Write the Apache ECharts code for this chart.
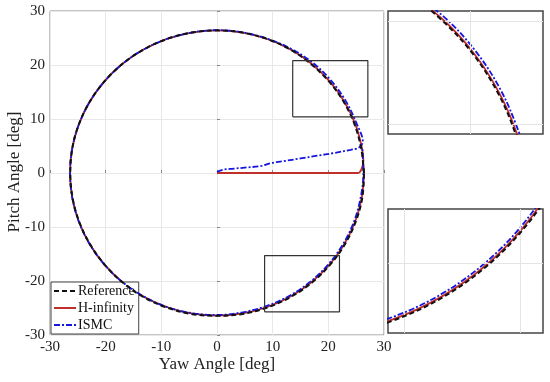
<!DOCTYPE html>
<html><head><meta charset="utf-8">
<script src="https://cdn.jsdelivr.net/npm/echarts@6/dist/echarts.min.js"></script>
<style>html,body{margin:0;padding:0;background:#fff}#c{width:550px;height:382px}</style>
</head><body><div id="c"></div>
<script>
// ---- data ----
const seriesNames = ['Reference', 'H-infinity', 'ISMC'];
const axisTitles = {x: 'Yaw Angle [deg]', y: 'Pitch Angle [deg]'};
const axisRange = [-30, 30];
const axisStep = 10;
const zoomBoxTop = [13.6, 27.1, 10.4, 20.8];     // xmin,xmax,ymin,ymax of box on main plot
const zoomBoxBottom = [8.55, 22.0, -25.7, -15.3];
const insetTopRange = [11.3, 27.6, 9.0, 21.0];
const insetBottomRange = [8.55, 22.0, -26.0, -15.3];
const insetTopGrid = {x: [20], y: [10, 20]};
const insetBottomGrid = {x: [10, 20], y: [-20]};

const referencePath = [
 [26.4,0],[25.90,4.57],[24.71,9.0],[22.78,13.15],[20.15,16.91],[16.91,20.15],[13.2,22.86],[9.03,24.81],[4.58,26.0],
 [0,26.4],[-4.58,26.0],[-9.03,24.81],[-13.2,22.86],[-16.97,20.22],[-20.22,16.97],[-22.86,13.2],[-24.81,9.03],[-26.0,4.58],
 [-26.35,0],[-25.95,-4.57],[-24.76,-9.01],[-22.82,-13.17],[-20.2,-16.95],[-16.97,-20.25],[-13.25,-22.95],[-9.06,-24.9],[-4.6,-26.1],
 [0,-26.45],[4.60,-26.10],[9.06,-24.90],[13.25,-22.95],[17.03,-20.30],[20.30,-17.03],[22.95,-13.25],[24.90,-9.06],[26.10,-4.60],[26.4,0]
];
const hinfPath = [
 [0,0],[5,0],[10,0],[15,0],[20,0],[25.3,0],[25.9,0.6],[26.3,2.2],[26.05,4.58],[24.85,9.04],[22.88,13.21],[20.24,16.98],[16.98,20.24],
 [13.2,22.86],[9.03,24.81],[4.58,26.0],[0,26.4],[-4.58,26.0],[-9.03,24.81],[-13.2,22.86],[-16.97,20.22],[-20.22,16.97],[-22.86,13.2],
 [-24.81,9.03],[-26.0,4.58],[-26.4,0],[-26.0,-4.58],[-24.81,-9.03],[-22.86,-13.2],[-20.22,-16.97],[-16.97,-20.22],[-13.2,-22.86],
 [-9.03,-24.81],[-4.58,-26.0],[0,-26.4],[4.58,-26.0],[9.03,-24.81],[13.2,-22.86],[16.97,-20.22],[20.22,-16.97],[22.86,-13.2],
 [24.81,-9.03],[26.0,-4.58],[26.4,0],[26.3,1.5]
];
const ismcPath = [
 [0,0.2],[1,0.6],[3,0.8],[5,1.0],[8,1.3],[9.5,1.8],[12,2.2],[15,2.7],[18,3.2],[21,3.7],[24,4.3],[25.5,4.7],[26.2,5.8],
 [25.09,9.13],[23.12,13.35],[20.45,17.16],[17.16,20.45],[13.3,23.0],[9.05,24.86],[4.59,26.05],[0,26.45],[-4.58,26.0],
 [-9.03,24.81],[-13.2,22.86],[-16.97,20.22],[-20.22,16.97],[-22.86,13.2],[-24.81,9.03],[-26.0,4.58],[-26.4,0],[-26.0,-4.58],
 [-24.81,-9.03],[-22.86,-13.2],[-20.22,-16.97],[-16.97,-20.22],[-13.2,-22.86],[-9.03,-24.81],[-4.57,-25.95],[0,-26.3],
 [4.55,-25.80],[8.96,-24.62],[13.1,-22.69],[16.84,-20.07],[20.07,-16.84],[22.69,-13.1],[24.62,-8.96],[25.80,-4.55],[26.3,0],[26.1,4.6]
];

// ---- chart ----
const serif = 'Liberation Serif';
const colors = {ref: '#111111', hinf: '#c0302a', ismc: '#1515e0'};
function boxPath(b){ return [[b[0],b[2]],[b[1],b[2]],[b[1],b[3]],[b[0],b[3]],[b[0],b[2]]]; }

const grids = [
  {left: 50, top: 11, width: 334, height: 324, show: true, borderColor: '#888', borderWidth: 1, outerBoundsMode: 'none', containLabel: false},
  {left: 388, top: 11, width: 155, height: 123, show: true, borderColor: '#444', borderWidth: 1.5, outerBoundsMode: 'none', containLabel: false},
  {left: 388, top: 209, width: 155, height: 124, show: true, borderColor: '#444', borderWidth: 1.5, outerBoundsMode: 'none', containLabel: false}
];
const mainX = {gridIndex: 0, type: 'value', min: axisRange[0], max: axisRange[1], interval: axisStep,
  axisLine: {show: false}, axisTick: {inside: true, length: 3, lineStyle: {color: '#888'}},
  axisLabel: {fontFamily: serif, fontSize: 15, color: '#222', margin: 5},
  splitLine: {lineStyle: {color: '#e8e8e8'}}};
const mainY = {gridIndex: 0, type: 'value', min: axisRange[0], max: axisRange[1], interval: axisStep,
  axisLine: {show: false}, axisTick: {inside: true, length: 3, lineStyle: {color: '#888'}},
  axisLabel: {fontFamily: serif, fontSize: 15, color: '#222', margin: 5},
  splitLine: {lineStyle: {color: '#e8e8e8'}}};
function insetAxis(gi, mn, mx){
  return {gridIndex: gi, type: 'value', min: mn, max: mx, axisLine: {show: false}, axisTick: {show: false},
    axisLabel: {show: false}, splitLine: {show: false}};
}
function gridMarks(g){
  const d = [];
  g.x.forEach(v => d.push({xAxis: v}));
  g.y.forEach(v => d.push({yAxis: v}));
  return {silent: true, symbol: 'none', label: {show: false}, lineStyle: {color: '#e4e4e4', type: 'solid', width: 1}, data: d};
}
function makeSeries(name, data, style, xi, z){
  return {name: name, type: 'line', data: data, xAxisIndex: xi, yAxisIndex: xi, showSymbol: false, symbol: 'none',
    smooth: 0.35, lineStyle: style, itemStyle: {color: style.color}, z: z, animation: false, clip: true};
}
const styles = {
  ref: {color: colors.ref, width: 2, type: [5, 3]},
  hinf: {color: colors.hinf, width: 1.8, type: 'solid'},
  ismc: {color: colors.ismc, width: 1.8, type: [6, 2, 2, 2]}
};
const series = [];
[0, 1, 2].forEach(i => {
  series.push(makeSeries('H-infinity', hinfPath, styles.hinf, i, 3));
  series.push(makeSeries('ISMC', ismcPath, styles.ismc, i, 4));
  series.push(makeSeries('Reference', referencePath, styles.ref, i, 5));
});
series.push({type: 'line', data: boxPath(zoomBoxTop), xAxisIndex: 0, yAxisIndex: 0, symbol: 'none', silent: true,
  lineStyle: {color: '#333', width: 1.2}, z: 6, animation: false});
series.push({type: 'line', data: boxPath(zoomBoxBottom), xAxisIndex: 0, yAxisIndex: 0, symbol: 'none', silent: true,
  lineStyle: {color: '#333', width: 1.2}, z: 6, animation: false});
series.push({type: 'line', data: [], xAxisIndex: 1, yAxisIndex: 1, markLine: gridMarks(insetTopGrid), z: 1, animation: false});
series.push({type: 'line', data: [], xAxisIndex: 2, yAxisIndex: 2, markLine: gridMarks(insetBottomGrid), z: 1, animation: false});

const chart = echarts.init(document.getElementById('c'), null, {renderer: 'canvas'});
chart.setOption({
  animation: false,
  grid: grids,
  xAxis: [mainX, insetAxis(1, insetTopRange[0], insetTopRange[1]), insetAxis(2, insetBottomRange[0], insetBottomRange[1])],
  yAxis: [mainY, insetAxis(1, insetTopRange[2], insetTopRange[3]), insetAxis(2, insetBottomRange[2], insetBottomRange[3])],
  legend: {data: seriesNames, orient: 'vertical', left: 51, top: 282, itemWidth: 22, itemHeight: 10, itemGap: 3,
    padding: [2, 4, 2, 2], backgroundColor: '#fff', borderColor: '#444', borderWidth: 1, borderRadius: 0,
    itemStyle: {opacity: 0},
    textStyle: {fontFamily: serif, fontSize: 14, color: '#111', padding: [0,0,0,-3]}},
  graphic: [
    {type: 'text', x: 217, y: 365, style: {text: axisTitles.x, font: '17px "Liberation Serif"', fill: '#222', align: 'center', verticalAlign: 'middle'}},
    {type: 'text', x: 15, y: 172, rotation: Math.PI / 2, style: {text: axisTitles.y, font: '17px "Liberation Serif"', fill: '#222', align: 'center', verticalAlign: 'middle'}}
  ],
  series: series
});
</script></body></html>
